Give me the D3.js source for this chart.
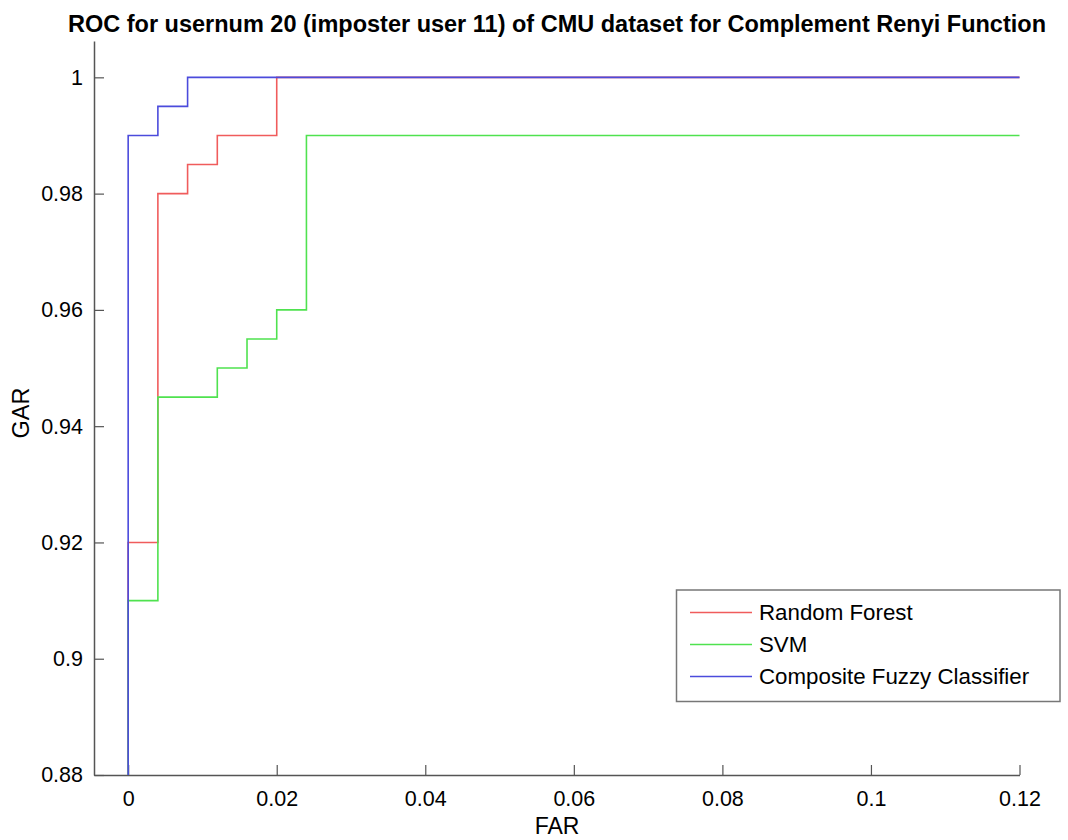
<!DOCTYPE html>
<html>
<head>
<meta charset="utf-8">
<script src="https://cdn.jsdelivr.net/npm/d3@7"></script>
<style>
  body { margin: 0; background: #fff; }
  text { font-family: "Liberation Sans", Arial, sans-serif; fill: #000; }
</style>
</head>
<body>
<div id="chart"></div>
<script>
var TITLE = 'ROC for usernum 20 (imposter user 11) of CMU dataset for Complement Renyi Function';
var seriesNames = ['Random Forest', 'SVM', 'Composite Fuzzy Classifier'];
var seriesColors = ['#f05c5c', '#4fe24f', '#4b4bdc'];

// ROC corner points
var rfFAR  = [0, 0,    0.004, 0.008, 0.012, 0.02, 0.12];
var rfGAR  = [0, 0.92, 0.98,  0.985, 0.99,  1,    1];
var svmFAR = [0, 0,    0.004, 0.012, 0.016, 0.02, 0.024, 0.12];
var svmGAR = [0, 0.91, 0.945, 0.95,  0.955, 0.96, 0.99,  0.99];
var cfcFAR = [0, 0,    0.004, 0.008, 0.12];
var cfcGAR = [0, 0.99, 0.995, 1,     1];

var xTicks = [0, 0.02, 0.04, 0.06, 0.08, 0.1, 0.12];
var yTicks = [0.88, 0.9, 0.92, 0.94, 0.96, 0.98, 1];

var WIDTH = 1068, HEIGHT = 840;
var LEFT = 94, RIGHT = 1019.5, TOP = 41, BOTTOM = 775;

var x = d3.scaleLinear().domain([-0.0046, 0.12]).range([LEFT, RIGHT]);
var y = d3.scaleLinear().domain([0.88, 1.00625]).range([BOTTOM, TOP]);

var svg = d3.select('#chart')
  .append('svg')
    .attr('width', WIDTH)
    .attr('height', HEIGHT);

svg.append('defs').append('clipPath')
    .attr('id', 'plot')
  .append('rect')
    .attr('x', LEFT).attr('y', TOP)
    .attr('width', RIGHT - LEFT + 2).attr('height', BOTTOM - TOP);

var fmt = d3.format('~g');

var xAxis = d3.axisBottom(x).tickValues(xTicks).tickFormat(fmt).tickSizeInner(-10).tickSizeOuter(0).tickPadding(16);
var yAxis = d3.axisLeft(y).tickValues(yTicks).tickFormat(fmt).tickSizeInner(-10).tickSizeOuter(0).tickPadding(11);

var gx = svg.append('g')
  .attr('transform', 'translate(0,' + BOTTOM + ')')
  .call(xAxis);
var gy = svg.append('g')
  .attr('transform', 'translate(' + LEFT + ',0)')
  .call(yAxis);

[gx, gy].forEach(function(g) {
  g.select('.domain').attr('stroke', '#555').attr('stroke-width', 1.5);
  g.selectAll('.tick line').attr('stroke', '#555').attr('stroke-width', 1.2);
  g.selectAll('.tick text').attr('font-size', 21.5).attr('font-family', '"Liberation Sans", Arial, sans-serif').attr('fill', '#000');
});

var series = [
  { far: rfFAR, gar: rfGAR },
  { far: svmFAR, gar: svmGAR },
  { far: cfcFAR, gar: cfcGAR }
];

var line = d3.line()
  .x(function(d) { return x(d[0]); })
  .y(function(d) { return y(d[1]); })
  .curve(d3.curveStepAfter);

series.forEach(function(s, i) {
  var pts = s.far.map(function(f, j) { return [f, s.gar[j]]; });
  svg.append('path')
    .datum(pts)
    .attr('clip-path', 'url(#plot)')
    .attr('fill', 'none')
    .attr('stroke', seriesColors[i])
    .attr('stroke-width', 1.6)
    .attr('d', line);
});

// title and axis labels
svg.append('text')
  .attr('x', 557).attr('y', 32)
  .attr('text-anchor', 'middle')
  .attr('font-size', 23.5).attr('font-weight', 'bold')
  .text(TITLE);

svg.append('text')
  .attr('x', 557).attr('y', 834)
  .attr('text-anchor', 'middle')
  .attr('font-size', 23)
  .text('FAR');

svg.append('text')
  .attr('transform', 'translate(29,413) rotate(-90)')
  .attr('text-anchor', 'middle')
  .attr('font-size', 23.5)
  .text('GAR');

// legend
var legend = svg.append('g');
legend.append('rect')
  .attr('x', 676.5).attr('y', 590)
  .attr('width', 383.5).attr('height', 111.5)
  .attr('fill', '#fff')
  .attr('stroke', '#777').attr('stroke-width', 1.5);

seriesNames.forEach(function(name, i) {
  var yy = 612.5 + i * 32;
  legend.append('line')
    .attr('x1', 690).attr('x2', 752)
    .attr('y1', yy).attr('y2', yy)
    .attr('stroke', seriesColors[i]).attr('stroke-width', 1.5);
  legend.append('text')
    .attr('x', 759).attr('y', yy + 7.5)
    .attr('font-size', 22.3)
    .text(name);
});
</script>
</body>
</html>
